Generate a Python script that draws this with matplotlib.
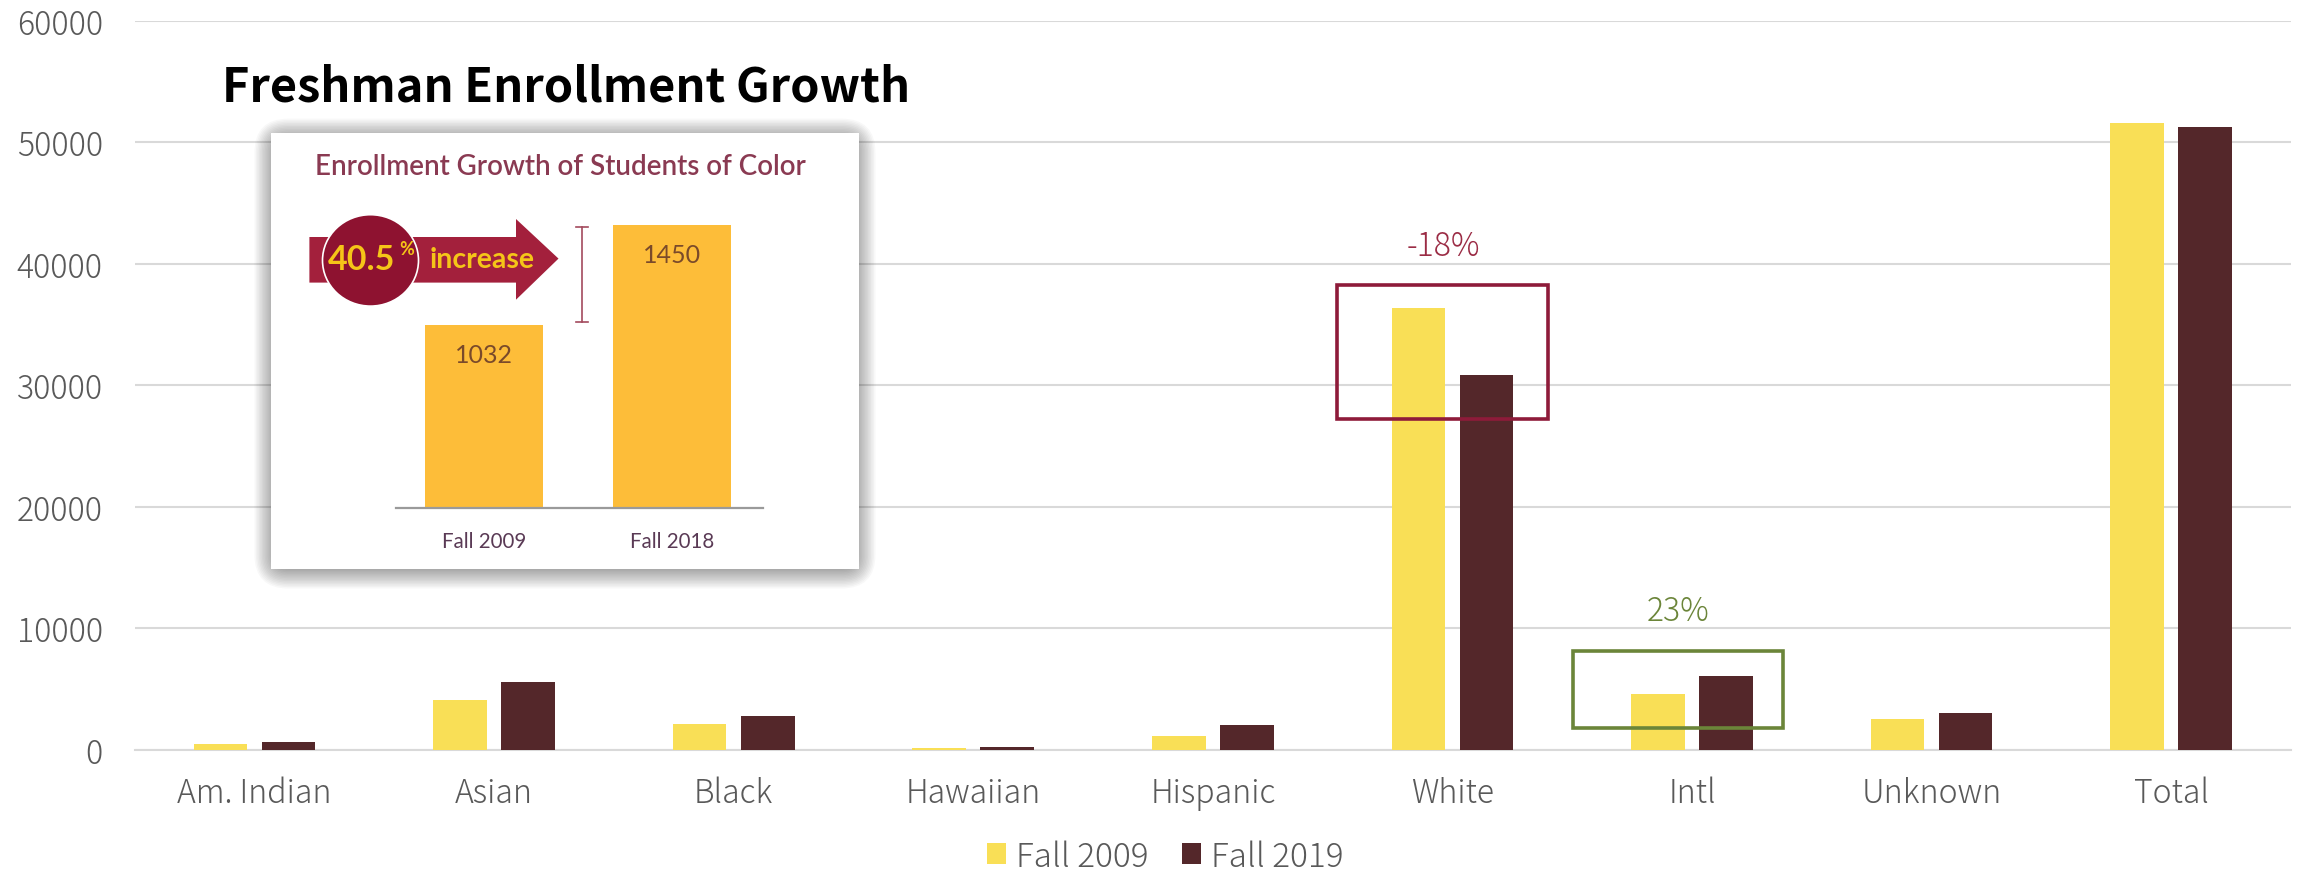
import numpy as np
import matplotlib
matplotlib.use("Agg")
from matplotlib import pyplot as plt
from matplotlib.patches import Rectangle, Ellipse, FancyBboxPatch, Polygon
from matplotlib.transforms import Affine2D

categories = ["Am. Indian", "Asian", "Black", "Hawaiian", "Hispanic", "White", "Intl", "Unknown", "Total"]
fall_2009 = [470, 4080, 2120, 100, 1090, 36350, 4600, 2480, 51580]
fall_2019 = [640, 5540, 2770, 170, 2000, 30870, 6020, 3020, 51270]
y_ticks = [0, 10000, 20000, 30000, 40000, 50000, 60000]

inset_labels = ["Fall 2009", "Fall 2018"]
inset_values = [1032, 1450]
inset_base = 268

W, H = 2305, 879
YELLOW = "#F9DF56"
BROWN = "#54272A"
GRID = "#D9D9D9"
TICK = "#595959"
RED = "#8E1B3A"
GREEN = "#6B8539"
FONT = "Noto Sans CJK JP"
INSET_FONT = "Lato"

plt.rcParams["font.family"] = [FONT, "DejaVu Sans"]


def axes_rect(left, top, right, bottom):
    return [left / W, 1 - bottom / H, (right - left) / W, (bottom - top) / H]


fig = plt.figure(figsize=(W / 100, H / 100), dpi=100)
# pixel coordinates measured from the top left of the picture
px = Affine2D().scale(1, -1).translate(0, H)

ax = fig.add_axes(axes_rect(134.7, 21.7, 2291, 750.5))
x = np.arange(len(categories))
ax.bar(x - 0.142, fall_2009, 0.224, color=YELLOW, label="Fall 2009", zorder=3)
ax.bar(x + 0.142, fall_2019, 0.224, color=BROWN, label="Fall 2019", zorder=3)
ax.set_xlim(-0.5, len(categories) - 0.5)
ax.set_ylim(0, 60000)
ax.set_yticks(y_ticks)
ax.set_xticks(x)
ax.set_xticklabels(categories)
ax.tick_params(axis="both", length=0, labelsize=23, labelcolor=TICK)
ax.tick_params(axis="y", pad=23)
ax.tick_params(axis="x", pad=19)
for lab in ax.get_xticklabels() + ax.get_yticklabels():
    lab.set_fontweight("light")
ax.grid(axis="y", color=GRID, linewidth=1.5, zorder=0)
ax.set_axisbelow(True)
for s in ["top", "right", "left"]:
    ax.spines[s].set_visible(False)
ax.spines["bottom"].set_color(GRID)
ax.spines["bottom"].set_linewidth(1.5)

# highlight boxes round White and Intl
ax.add_patch(Rectangle((4.519, 27240), 0.881, 11000, fill=False, edgecolor=RED, linewidth=2.6, zorder=4))
ax.add_patch(Rectangle((5.503, 1730), 0.876, 6350, fill=False, edgecolor=GREEN, linewidth=2.6, zorder=4))
ax.text(1443, 247, "-18%", transform=px, color="#9B2C45", fontsize=23, fontweight="light", ha="center", va="center")
ax.text(1678, 612, "23%", transform=px, color=GREEN, fontsize=23, fontweight="light", ha="center", va="center")

leg = ax.legend(loc="center", bbox_to_anchor=(1165 / W, 1 - 857.3 / H), bbox_transform=fig.transFigure, ncol=2,
                frameon=False, fontsize=24, borderpad=0, borderaxespad=0, handlelength=0.58, handleheight=0.58,
                handletextpad=0.29, columnspacing=1.0, labelcolor=TICK)
for t in leg.get_texts():
    t.set_fontweight("light")

fig.text(221.5 / W, 1 - 102 / H, "Freshman Enrollment Growth", fontsize=33.8, fontweight="bold", color="black",
         ha="left", va="baseline", zorder=6)

# soft shadow behind the pasted figure
for d in np.linspace(0, 34, 24):
    fig.add_artist(FancyBboxPatch((271.4 - 17 + d, 133.6 - 17 + d + 3), 587.1 + 34 - 2 * d, 436 + 34 - 2 * d,
                                  boxstyle="round,pad=0,rounding_size=%f" % max(34 - d, 1), transform=px,
                                  facecolor="black", edgecolor="none", alpha=0.028, zorder=1))

# pasted figure, categories one step apart
iax = fig.add_axes(axes_rect(271.4, 133.6, 858.5, 569.6), zorder=3)
ix = np.arange(len(inset_values))
iax.bar(ix, np.array(inset_values) - inset_base, 0.626, bottom=inset_base, color="#FDBD39")
iax.set_xlim(-1.127, 1.987)
iax.set_ylim(13, 1835)
iax.set_xticks([])
iax.set_yticks([])
for s in iax.spines.values():
    s.set_visible(False)
iax.plot([395.5, 763.4], [508.6, 508.6], transform=px, color="#9A9A9A", linewidth=1.6)

iax.text(560.7, 166.8, "Enrollment Growth of Students of Color", transform=px, family=INSET_FONT, fontsize=20,
         color="#8A3A52", fontweight="semibold", ha="center", va="center")
iax.add_patch(Polygon([(309.4, 238), (516, 238), (516, 220), (558.5, 259.6), (516, 300.7), (516, 283.6), (309.4, 283.6)],
                      closed=True, transform=px, facecolor="#A3203C", edgecolor="none"))
iax.add_patch(Ellipse((370.5, 261.4), 96, 91.4, transform=px, facecolor="#8E1230", edgecolor="white", linewidth=1.2))
iax.text(362, 260, "40.5", transform=px, family=INSET_FONT, fontsize=24.5, fontweight="bold", color="#F5C518",
         ha="center", va="center")
iax.text(407, 250, "%", transform=px, family=INSET_FONT, fontsize=13, fontweight="bold", color="#F5C518",
         ha="center", va="center")
iax.text(482, 259.6, "increase", transform=px, family=INSET_FONT, fontsize=20.5, fontweight="bold", color="#F5C518",
         ha="center", va="center")
iax.plot([582, 582], [227.5, 322.9], transform=px, color="#A34A5D", linewidth=1.2)
iax.plot([576, 588], [227.5, 227.5], transform=px, color="#A34A5D", linewidth=1.2)
iax.plot([576, 588], [322.9, 322.9], transform=px, color="#A34A5D", linewidth=1.2)

for i, v in zip(ix, inset_values):
    iax.annotate(str(v), (i, v), xytext=(0, -29.5 * 0.72), textcoords="offset points", family=INSET_FONT, fontsize=18,
                 color="#7A4A2A", ha="center", va="center")
    iax.text(i, 0.064, inset_labels[i], transform=iax.get_xaxis_transform(), family=INSET_FONT, fontsize=14.8,
             color="#5A3A55", ha="center", va="center")

fig.savefig("out.png", dpi=100)
plt.close()
